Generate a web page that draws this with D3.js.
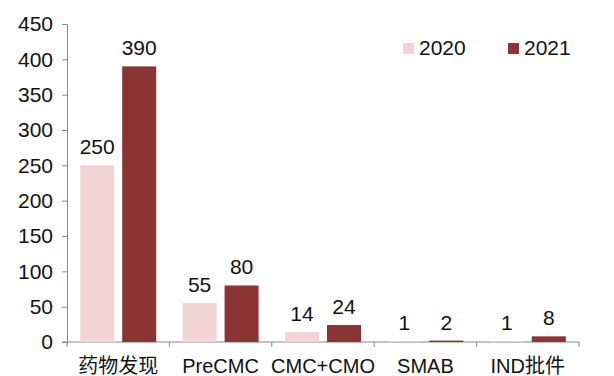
<!DOCTYPE html>
<html>
<head>
<meta charset="utf-8">
<script src="https://cdn.jsdelivr.net/npm/d3@7"></script>
<style>
  html, body { margin: 0; padding: 0; background: #fff; }
  svg { display: block; }
  text { font-family: "Liberation Sans", Arial, "Noto Sans CJK SC", sans-serif; fill: #111; }
</style>
</head>
<body>
<svg id="chart" width="614" height="376"></svg>
<script>
// Categories, series and axis ticks
const categories = ["药物发现", "PreCMC", "CMC+CMO", "SMAB", "IND批件"];
const seriesNames = ["2020", "2021"];
const values2020 = [250, 55, 14, 1, 1];
const values2021 = [390, 80, 24, 2, 8];
const yTicks = [0, 50, 100, 150, 200, 250, 300, 350, 400, 450];
const colors = ["#F2D4D4", "#8A3433"];

const svg = d3.select("#chart");
const plot = { left: 67, right: 579, top: 24, bottom: 342 };

const x = d3.scaleBand().domain(categories).range([plot.left, plot.right])
  .paddingInner(0).paddingOuter(0);
const x1 = d3.scaleBand().domain(seriesNames).range([0, x.bandwidth()])
  .paddingInner(0.19).paddingOuter(0.314);
const y = d3.scaleLinear().domain([0, 450]).range([plot.bottom, plot.top]);

// Y axis
const yAxis = svg.append("g").attr("transform", `translate(${plot.left},0)`)
  .call(d3.axisLeft(y).tickValues(yTicks).tickSize(5).tickPadding(9));
yAxis.select(".domain").attr("stroke", "#888");
yAxis.selectAll(".tick line").attr("stroke", "#888");
yAxis.selectAll(".tick text").style("font-size", "21px").attr("fill", "#111");

// X axis: category separators below the baseline
const xAxis = svg.append("g").attr("transform", `translate(0,${plot.bottom})`);
xAxis.append("line").attr("x1", plot.left - 5).attr("x2", plot.right).attr("y1", 0).attr("y2", 0)
  .attr("stroke", "#888");
const seps = categories.map(c => x(c)).concat([x(categories[categories.length - 1]) + x.bandwidth()]);
xAxis.selectAll("line.sep").data(seps).join("line").attr("class", "sep")
  .attr("x1", d => d).attr("x2", d => d).attr("y1", 0).attr("y2", 5).attr("stroke", "#888");
xAxis.selectAll("text.cat").data(categories).join("text").attr("class", "cat")
  .attr("x", d => x(d) + x.bandwidth() / 2).attr("y", 31)
  .attr("text-anchor", "middle").style("font-size", "20px")
  .text(d => d);

// Bars and value labels
const rows = categories.map((c, i) => ({ cat: c, vals: [values2020[i], values2021[i]] }));
const groups = svg.selectAll("g.grp").data(rows).join("g").attr("class", "grp")
  .attr("transform", d => `translate(${x(d.cat)},0)`);
groups.selectAll("rect").data(d => d.vals.map((v, j) => ({ v, s: seriesNames[j], j })))
  .join("rect")
  .attr("x", d => x1(d.s)).attr("width", x1.bandwidth())
  .attr("y", d => y(d.v)).attr("height", d => y(0) - y(d.v))
  .attr("fill", d => colors[d.j]);
groups.selectAll("text.val").data(d => d.vals.map((v, j) => ({ v, s: seriesNames[j], j })))
  .join("text").attr("class", "val")
  .attr("x", d => x1(d.s) + x1.bandwidth() / 2).attr("y", d => y(d.v) - 11)
  .attr("text-anchor", "middle").style("font-size", "21px")
  .text(d => d.v);

// Legend
const legend = svg.append("g").attr("transform", "translate(403,43)");
const li = legend.selectAll("g").data(seriesNames).join("g")
  .attr("transform", (d, i) => `translate(${i * 105},0)`);
li.append("rect").attr("width", 11).attr("height", 11).attr("fill", (d, i) => colors[i]);
li.append("text").attr("x", 16).attr("y", 12).style("font-size", "21px").text(d => d);
</script>
</body>
</html>
